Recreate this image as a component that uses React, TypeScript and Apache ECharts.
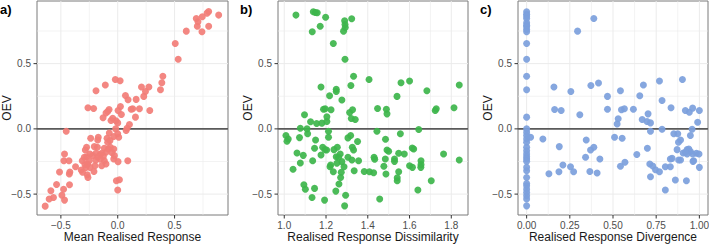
import React, { useEffect, useRef } from "react";
import * as echarts from "echarts";

// ---------- data ----------
const Y_RANGE = [-0.66, 0.98];
const yMajor = [-0.5, 0, 0.5];
const yMinor = [-0.25, 0.25, 0.75];

const aRange = [-0.71, 0.97];
const aMajor = [-0.5, 0, 0.5];
const aMinor = [-0.25, 0.25, 0.75];
const bRange = [0.97, 1.88];
const bMajor = [1.0, 1.2, 1.4, 1.6, 1.8];
const bMinor = [1.1, 1.3, 1.5, 1.7];
const cRange = [-0.05, 1.05];
const cMajor = [0, 0.25, 0.5, 0.75, 1];
const cMinor = [0.125, 0.375, 0.625, 0.875];

const panelLabels = ["a)", "b)", "c)"];
const xTitles = ["Mean Realised Response", "Realised Response Dissimilarity", "Realised Response Divergence"];
const yTitle = "OEV";

const aX = [0.80,0.786,0.888,0.744,0.691,0.706,0.70,0.80,0.741,0.603,
  0.506,0.532,0.397,0.388,0.376,0.274,0.244,0.209,0.229,0.162,
  0.282,0.191,0.132,0.118,0.156,0.103,0.082,0.074,0.088,-0.021,
  0.021,-0.109,-0.191,0.068,0.091,0.024,0.032,0.003,-0.076,-0.088,
  -0.103,-0.129,-0.044,-0.059,-0.015,0,-0.018,-0.262,-0.212,-0.453,
  0,-0.074,-0.094,-0.238,-0.171,-0.176,0.009,-0.035,-0.068,-0.088,
  -0.179,-0.206,-0.274,-0.285,-0.118,-0.082,-0.065,-0.035,-0.05,-0.103,
  -0.141,-0.156,-0.191,-0.221,-0.244,-0.274,-0.294,-0.176,-0.126,-0.029,
  -0.035,-0.118,-0.153,-0.194,-0.25,-0.312,-0.288,-0.265,-0.103,-0.141,
  -0.2,-0.244,-0.279,-0.321,-0.371,-0.309,-0.268,-0.262,-0.209,0.003,
  -0.012,0.015,0,-0.512,-0.421,-0.426,-0.468,-0.474,-0.429,-0.424,
  -0.538,-0.476,-0.588,-0.491,-0.565,-0.603,-0.468,-0.638];
const aY = [0.90,0.887,0.872,0.859,0.846,0.821,0.787,0.787,0.744,0.749,
  0.654,0.533,0.403,0.354,0.30,0.321,0.287,0.321,0.249,0.226,
  0.141,0.154,0.154,0.151,0.09,0.033,0.005,-0.013,-0.244,0.379,
  0.369,0.336,0.292,0.256,0.223,0.172,0.11,0.141,0.149,0.133,
  0.121,0.085,0.082,0.064,0.062,0.046,0.0,0.162,0.156,-0.018,
  -0.038,-0.031,-0.072,-0.072,-0.064,-0.085,-0.064,-0.059,-0.09,-0.103,
  -0.141,-0.136,-0.141,-0.162,-0.149,-0.154,-0.141,-0.154,-0.182,-0.179,
  -0.187,-0.197,-0.187,-0.205,-0.192,-0.213,-0.218,-0.218,-0.21,-0.205,
  -0.231,-0.244,-0.233,-0.241,-0.244,-0.244,-0.274,-0.269,-0.269,-0.282,
  -0.282,-0.295,-0.295,-0.315,-0.29,-0.333,-0.351,-0.372,-0.326,-0.251,
  -0.397,-0.39,-0.469,-0.331,-0.331,-0.346,-0.192,-0.244,-0.244,-0.428,
  -0.426,-0.462,-0.474,-0.508,-0.526,-0.538,-0.546,-0.592];

const bX = [1.056,1.139,1.149,1.158,1.198,1.172,1.134,1.289,1.291,1.292,
  1.284,1.323,1.235,1.291,1.332,1.406,1.60,1.559,1.319,1.838,
  1.176,1.249,1.249,1.683,1.54,1.217,1.276,1.188,1.196,1.224,
  1.447,1.489,1.492,1.723,1.728,1.813,1.097,1.313,1.327,1.321,
  1.34,1.126,1.155,1.18,1.204,1.204,1.077,1.109,1.112,1.212,
  1.008,1.019,1.013,1.073,1.15,1.212,1.305,1.318,1.351,1.444,
  1.485,1.556,1.644,1.145,1.091,1.061,1.077,1.042,1.136,1.176,
  1.184,1.195,1.203,1.238,1.254,1.249,1.268,1.26,1.276,1.222,
  1.219,1.235,1.252,1.286,1.273,1.27,1.262,1.247,1.294,1.289,
  1.305,1.326,1.332,1.324,1.356,1.335,1.383,1.408,1.428,1.43,
  1.433,1.477,1.484,1.487,1.492,1.5,1.528,1.528,1.548,1.548,
  1.541,1.541,1.575,1.6,1.614,1.62,1.613,1.655,1.655,1.654,
  1.64,1.704,1.763,1.838,1.457,1.193,1.133,1.145,1.094,1.101];
const bY = [0.872,0.897,0.892,0.89,0.856,0.787,0.744,0.828,0.80,0.777,
  0.749,0.844,0.654,0.533,0.403,0.379,0.367,0.354,0.333,0.336,
  0.321,0.303,0.287,0.292,0.249,0.254,0.221,0.151,0.154,0.146,
  0.156,0.151,0.115,0.141,0.154,0.162,0.108,0.126,0.146,0.079,
  0.072,0.054,0.041,0.044,0.056,0.092,0.005,0.0,-0.038,-0.018,
  -0.051,-0.077,-0.095,-0.067,-0.085,-0.064,-0.069,-0.051,-0.097,-0.018,
  -0.079,-0.038,-0.005,-0.149,-0.203,-0.185,-0.262,-0.31,-0.244,-0.2,
  -0.141,-0.159,-0.162,-0.159,-0.141,-0.213,-0.192,-0.218,-0.251,-0.277,
  -0.29,-0.328,-0.264,-0.29,-0.333,-0.372,-0.423,-0.477,-0.508,-0.59,
  -0.218,-0.141,-0.162,-0.238,-0.244,-0.321,-0.326,-0.328,-0.336,-0.218,
  -0.233,-0.287,-0.231,-0.346,-0.162,-0.172,-0.231,-0.249,-0.187,-0.328,
  -0.374,-0.397,-0.192,-0.282,-0.295,-0.154,-0.146,-0.244,-0.274,-0.295,
  -0.469,-0.397,-0.192,-0.238,-0.538,-0.546,-0.526,-0.456,-0.428,-0.462];

const cX = [0,0,0,0,0,0,0,0,0,0,
  0,0,0,0,0,0,0,0,0,0,
  0,0,0,0,0,0,0,0,0,0,
  0,0,0,0,0,
  0.023,0.094,0.389,0.295,0.158,0.162,0.2,0.256,0.308,0.372,
  0.416,0.468,0.468,0.543,0.549,0.566,0.53,0.524,0.618,0.655,
  0.676,0.669,0.703,0.697,0.717,0.717,0.769,0.784,0.784,0.836,
  0.902,0.919,0.942,0.961,1.0,0.99,0.958,0.948,0.852,0.875,
  0.891,0.879,0.509,0.553,0.345,0.389,0.37,0.341,0.424,0.189,
  0.21,0.187,0.129,0.254,0.272,0.366,0.408,0.543,0.569,0.638,
  0.699,0.713,0.73,0.717,0.746,0.769,0.803,0.832,0.842,0.832,
  0.861,0.803,0.925,0.871,0.88,0.891,0.906,0.929,0.939,0.948,
  0.961,0.963,0.983,0.998,1.0,0.967,0.929,0.919];
const cY = [0.897,0.879,0.864,0.846,0.813,0.795,0.782,0.762,0.744,0.654,
  0.533,0.403,0.30,0.09,0,-0.026,-0.051,-0.077,-0.103,-0.141,
  -0.167,-0.192,-0.213,-0.231,-0.249,-0.295,-0.321,-0.372,-0.418,-0.436,
  -0.462,-0.487,-0.513,-0.538,-0.59,
  -0.064,-0.077,0.846,0.749,0.321,0.149,0.141,0.287,0.108,0.333,
  0.351,0.249,0.151,0.292,0.146,0.154,0.077,0.038,0.151,0.254,
  0.336,0.072,0.115,0.056,0.046,-0.018,0.367,0.218,-0.003,0.162,
  0.379,0.141,0.128,0.159,0.141,0.051,-0.003,-0.051,-0.038,-0.038,
  -0.085,-0.103,-0.064,-0.072,-0.085,-0.141,-0.162,-0.218,-0.231,-0.136,
  -0.277,-0.328,-0.344,-0.29,-0.328,-0.326,-0.338,-0.287,-0.256,-0.197,
  -0.149,-0.269,-0.285,-0.367,-0.313,-0.328,-0.29,-0.29,-0.226,-0.231,
  -0.392,-0.469,-0.397,-0.159,-0.238,-0.238,-0.185,-0.159,-0.154,-0.174,
  -0.192,-0.249,-0.187,-0.192,-0.295,-0.244,-0.192,-0.179];

const colors = ["#F27D77", "#3DB54B", "#7CA0DC"];

// ---------- helpers ----------
const FONT = "'Liberation Sans', Arial, Helvetica, sans-serif";
const near = (v: number, list: number[]) => list.some((t) => Math.abs(t - v) < 1e-6);
const fmt = (v: number, d: number) => {
  if (Math.abs(v) < 1e-9) v = 0;
  return (v < 0 ? "\u2212" : "") + Math.abs(v).toFixed(d);
};

const grids = [
  { left: 37, top: 1, width: 191, height: 214 },
  { left: 278, top: 1, width: 190, height: 214 },
  { left: 518, top: 1, width: 190, height: 214 },
];

function guideSeries(i: number, xr: number[], xMaj: number[], xMin: number[]) {
  type G = { d: "x" | "y"; v: number; k: "maj" | "min" | "zero" };
  const items: G[] = [];
  xMin.forEach((v) => items.push({ d: "x", v, k: "min" }));
  yMinor.forEach((v) => items.push({ d: "y", v, k: "min" }));
  xMaj.forEach((v) => items.push({ d: "x", v, k: "maj" }));
  yMajor.forEach((v) => items.push({ d: "y", v, k: "maj" }));
  items.push({ d: "y", v: 0, k: "zero" });
  return {
    type: "custom",
    xAxisIndex: i,
    yAxisIndex: i,
    silent: true,
    clip: false,
    z: 1,
    data: items.map((g) => (g.d === "x" ? [g.v, Y_RANGE[0]] : [xr[0], g.v])),
    renderItem: (params: any, api: any) => {
      const g = items[params.dataIndex];
      const children: any[] = [];
      const stroke = g.k === "zero" ? "#5a5a5a" : "#ebebeb";
      const lw = g.k === "zero" ? 1.8 : g.k === "maj" ? 1 : 0.6;
      if (g.d === "x") {
        const p1 = api.coord([g.v, Y_RANGE[1]]);
        const p2 = api.coord([g.v, Y_RANGE[0]]);
        children.push({ type: "line", shape: { x1: p1[0], y1: p1[1], x2: p2[0], y2: p2[1] }, style: { stroke, lineWidth: lw } });
        if (g.k === "maj") {
          children.push({ type: "line", shape: { x1: p2[0], y1: p2[1], x2: p2[0], y2: p2[1] + 3.5 }, style: { stroke: "#333", lineWidth: 1 } });
        }
      } else {
        const p1 = api.coord([xr[0], g.v]);
        const p2 = api.coord([xr[1], g.v]);
        children.push({ type: "line", shape: { x1: p1[0], y1: p1[1], x2: p2[0], y2: p2[1] }, style: { stroke, lineWidth: lw } });
        if (g.k === "maj") {
          children.push({ type: "line", shape: { x1: p1[0] - 3.5, y1: p1[1], x2: p1[0], y2: p1[1] }, style: { stroke: "#333", lineWidth: 1 } });
        }
      }
      return { type: "group", children };
    },
  };
}

export default function App() {
  const ref = useRef<HTMLDivElement>(null);
  useEffect(() => {
    if (!ref.current) return;
    const chart = echarts.init(ref.current, null, { renderer: "svg" });
    const ranges = [aRange, bRange, cRange];
    const majors = [aMajor, bMajor, cMajor];
    const minors = [aMinor, bMinor, cMinor];
    const decimals = [1, 1, 2];
    const xs = [aX, bX, cX];
    const ys = [aY, bY, cY];

    const option: any = {
      animation: false,
      textStyle: { fontFamily: FONT },
      grid: grids.map((g) => ({
        ...g,
        show: true,
        borderColor: "#7a7a7a",
        borderWidth: 1,
        backgroundColor: "transparent",
        containLabel: false,
        outerBoundsMode: "none",
      })),
      xAxis: ranges.map((r, i) => ({
        type: "value",
        gridIndex: i,
        min: r[0],
        max: r[1],
        interval: 0.01,
        name: xTitles[i],
        nameLocation: "middle",
        nameGap: 16,
        nameMoveOverlap: false,
        nameTextStyle: { fontSize: 12, color: "#1a1a1a", fontFamily: FONT },
        axisLine: { show: false },
        axisTick: { show: false },
        splitLine: { show: false },
        axisLabel: {
          fontSize: 10,
          color: "#4d4d4d",
          margin: 5,
          fontFamily: FONT,
          showMinLabel: false,
          showMaxLabel: false,
          formatter: (v: number) => (near(v, majors[i]) ? fmt(v, decimals[i]) : ""),
        },
      })),
      yAxis: ranges.map((_, i) => ({
        type: "value",
        gridIndex: i,
        min: Y_RANGE[0],
        max: Y_RANGE[1],
        interval: 0.01,
        name: yTitle,
        nameLocation: "middle",
        nameGap: 24,
        nameMoveOverlap: false,
        nameTextStyle: { fontSize: 12, color: "#1a1a1a", fontFamily: FONT },
        axisLine: { show: false },
        axisTick: { show: false },
        splitLine: { show: false },
        axisLabel: {
          fontSize: 10,
          color: "#4d4d4d",
          margin: 6,
          fontFamily: FONT,
          showMinLabel: false,
          showMaxLabel: false,
          formatter: (v: number) => (near(v, yMajor) ? fmt(v, 1) : ""),
        },
      })),
      series: [
        ...ranges.map((r, i) => guideSeries(i, r, majors[i], minors[i])),
        ...xs.map((xarr, i) => ({
          type: "scatter",
          xAxisIndex: i,
          yAxisIndex: i,
          z: 3,
          symbolSize: 7,
          silent: true,
          itemStyle: { color: colors[i], opacity: 0.92 },
          data: xarr.map((x, j) => [x, ys[i][j]]),
        })),
      ],
      graphic: panelLabels.map((t, i) => ({
        type: "text",
        left: [0, 240, 480][i],
        top: 3,
        style: { text: t, fontSize: 13, fontWeight: "bold", fill: "#000", fontFamily: FONT },
      })),
    };
    chart.setOption(option);
    return () => chart.dispose();
  }, []);
  return <div ref={ref} style={{ width: 709, height: 246, position: "absolute", left: 0, top: 0 }} />;
}
